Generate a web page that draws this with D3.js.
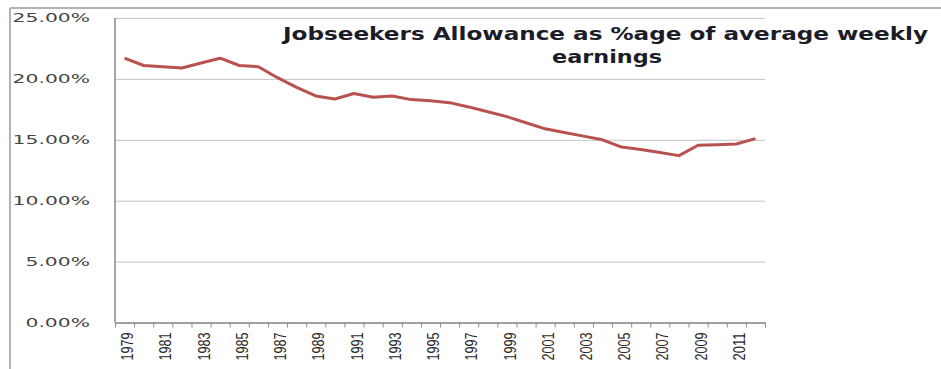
<!DOCTYPE html>
<html>
<head>
<meta charset="utf-8">
<script src="https://cdn.jsdelivr.net/npm/d3@7"></script>
<style>
  body { margin: 0; background: #fff; }
  svg { display: block; }
</style>
</head>
<body>
<svg width="941" height="369"></svg>
<script>
// data
var years = d3.range(1979, 2013).map(String);
var allowance = [21.7, 21.1, 21.0, 20.9, 21.3, 21.7, 21.1, 21.0, 20.1, 19.3,
                 18.6, 18.35, 18.8, 18.5, 18.6, 18.3, 18.2, 18.05, 17.7, 17.3,
                 16.9, 16.4, 15.9, 15.6, 15.3, 15.0, 14.4, 14.2, 13.95, 13.7,
                 14.55, 14.6, 14.65, 15.1];
var yTicks = [0, 5, 10, 15, 20, 25];
var labelYears = years.filter(function(d, i) { return i % 2 == 0 && i < 33; });
var titleLines = ["Jobseekers Allowance as %age of average weekly", "earnings"];

var svg = d3.select("svg");
var plot = { left: 115, right: 765, top: 18, bottom: 322.5 };

// frame
svg.append("line").attr("x1", 10).attr("x2", 941).attr("y1", 8).attr("y2", 8)
    .attr("stroke", "#9a9a9a").attr("stroke-width", 1.5);
svg.append("line").attr("x1", 10).attr("x2", 10).attr("y1", 8).attr("y2", 369)
    .attr("stroke", "#9a9a9a").attr("stroke-width", 1.5);

var x = d3.scaleBand().domain(years).range([plot.left, plot.right]);
var xb = d3.scaleLinear().domain([0, years.length]).range([plot.left, plot.right]);
var y = d3.scaleLinear().domain([0, 25]).range([plot.bottom, plot.top]);

// gridlines + y labels
var gy = svg.append("g")
    .attr("transform", "translate(" + plot.left + ",0)")
    .call(d3.axisLeft(y).tickValues(yTicks).tickSize(8)
        .tickFormat(function(d) { return d.toFixed(2) + "%"; }));
gy.select(".domain").remove();
gy.selectAll(".tick line").attr("stroke", "#c4c4c4").attr("x2", plot.right - plot.left);
gy.selectAll(".tick text")
    .attr("x", -25)
    .attr("fill", "#454545")
    .style("font-family", "DejaVu Sans")
    .style("font-size", "12px")
    .attr("textLength", function(d) { return (d.toFixed(2).length + 1) * 12.9; })
    .attr("lengthAdjust", "spacingAndGlyphs");

// y axis line
svg.append("line").attr("x1", plot.left).attr("x2", plot.left)
    .attr("y1", plot.top).attr("y2", plot.bottom)
    .attr("stroke", "#8a8a8a").attr("stroke-width", 1.5);

// x axis: ticks at category boundaries
var gxb = svg.append("g")
    .attr("transform", "translate(0," + plot.bottom + ")")
    .call(d3.axisBottom(xb).ticks(years.length).tickSize(5).tickSizeOuter(0).tickFormat(""));
gxb.select(".domain").attr("stroke", "#8a8a8a").attr("stroke-width", 1.5);
gxb.selectAll(".tick line").attr("stroke", "#8a8a8a");

// x labels
var gx = svg.append("g")
    .attr("transform", "translate(0," + plot.bottom + ")")
    .call(d3.axisBottom(x).tickValues(labelYears).tickSize(0));
gx.select(".domain").remove();
gx.selectAll(".tick text")
    .attr("transform", "rotate(-90)")
    .attr("x", -10)
    .attr("y", 3)
    .attr("dy", "0.35em")
    .attr("text-anchor", "end")
    .attr("fill", "#2a2a2a")
    .style("font-family", "Liberation Sans")
    .style("font-size", "16px")
    .attr("textLength", 28)
    .attr("lengthAdjust", "spacingAndGlyphs");

// series
var line = d3.line()
    .x(function(d, i) { return x(years[i]) + x.bandwidth() / 2; })
    .y(function(d) { return y(d); });
svg.append("path")
    .datum(allowance)
    .attr("fill", "none")
    .attr("stroke", "#b85250")
    .attr("stroke-width", 3)
    .attr("stroke-linejoin", "round")
    .attr("d", line);

// title
svg.append("text").attr("x", 283).attr("y", 40)
    .attr("textLength", 645).attr("lengthAdjust", "spacingAndGlyphs")
    .style("font-family", "DejaVu Sans").style("font-weight", "bold").style("font-size", "17px")
    .attr("fill", "#1c1c28")
    .text(titleLines[0]);
svg.append("text").attr("x", 552).attr("y", 63)
    .attr("textLength", 110).attr("lengthAdjust", "spacingAndGlyphs")
    .style("font-family", "DejaVu Sans").style("font-weight", "bold").style("font-size", "17px")
    .attr("fill", "#1c1c28")
    .text(titleLines[1]);
</script>
</body>
</html>
